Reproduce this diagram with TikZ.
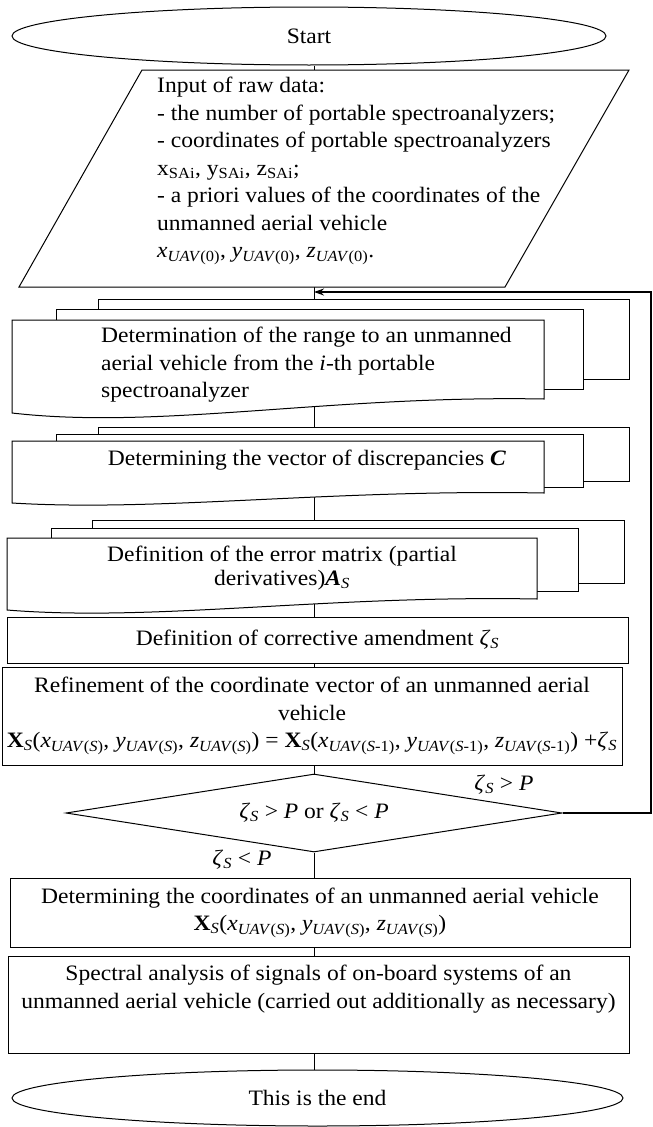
\documentclass[tikz,border=0pt]{standalone}
\usepackage{fontspec}
\setmainfont{Liberation Serif}[FakeStretch=1.07]
\usetikzlibrary{arrows.meta, shapes.geometric, backgrounds}
\newcommand{\uavc}[2]{\textit{#1}\textsubscript{\textit{UAV}(#2)}}
\newcommand{\zetas}{\textit{ζ}\textsubscript{\textit{S}}}
\newcommand{\Xs}{\textbf{X}\textsubscript{\textit{S}}}
\begin{document}
\begin{tikzpicture}[x=1pt, y=-1pt,
  font=\fontsize{22}{27.5}\selectfont,
  term/.style={draw, ellipse, fill=white, inner sep=0pt, line width=1pt},
  page/.style={draw, fill=white, inner sep=0pt, line width=1pt},
  proc/.style={draw, rectangle, fill=white, inner sep=0pt, align=center, line width=1pt},
  decide/.style={draw, diamond, fill=white, inner sep=0pt, shape aspect=6.4, line width=1pt},
  txt/.style={inner sep=0pt},
  flow/.style={line width=1pt},
  back/.style={-{Stealth[length=10pt, width=7pt]}, line width=1.4pt},
]
\useasboundingbox (0,0) rectangle (653,1127);
\coordinate (axis) at (314,0);

% Start and input
\node[term, minimum width=594pt, minimum height=58pt] (start) at (309,36) {Start};
\draw[page] (19,287) -- (142,70) -- (629,70) -- (505,287) -- cycle;
\coordinate (input1) at (314,70);
\coordinate (input2) at (314,287);
\node[txt, align=left, anchor=west] (input) at (157,171) {Input of raw data:\\
  - the number of portable spectroanalyzers;\\
  - coordinates of portable spectroanalyzers\\
  x\textsubscript{SAi}, y\textsubscript{SAi}, z\textsubscript{SAi};\\
  - a priori values of the coordinates of the\\
  unmanned aerial vehicle\\
  \uavc{x}{0}, \uavc{y}{0}, \uavc{z}{0}.};

% Range, three pages
\node[page, minimum width=531pt, minimum height=80pt] (range3) at (363.5,339) {};
\node[page, minimum width=527pt, minimum height=80pt] (range2) at (319.5,349) {};
\draw[page] (12,320) -- (544,320) -- (544,399)
  .. controls (330,395) and (160,430) .. (12,413) -- cycle;
\coordinate (range1) at (314,405);
\node[txt, align=left, anchor=west] (range) at (101,365) {Determination of the range to an unmanned\\
  aerial vehicle from the \textit{i}-th portable\\
  spectroanalyzer};

% Discrepancies, three pages
\node[page, minimum width=531pt, minimum height=54pt] (disc3) at (363.5,454) {};
\node[page, minimum width=527pt, minimum height=53pt] (disc2) at (319.5,460.5) {};
\draw[page] (12,441) -- (544,441) -- (544,493)
  .. controls (330,489) and (160,512) .. (12,503) -- cycle;
\coordinate (disc1) at (314,496);
\node[txt] (disc) at (307,460) {Determining the vector of discrepancies \textbf{\textit{C}}};

% Error matrix, three pages
\node[page, minimum width=532pt, minimum height=63pt] (err3) at (358,551.5) {};
\node[page, minimum width=527pt, minimum height=63pt] (err2) at (314.5,559.5) {};
\draw[page] (7,538) -- (537,538) -- (537,599)
  .. controls (325,595) and (155,622) .. (7,610) -- cycle;
\coordinate (err1) at (314,602);
\node[txt, align=center] (err) at (282,568) {Definition of the error matrix (partial\\[-4pt]
  derivatives)\textbf{\textit{A}}\textsubscript{\textit{S}}};

% Correction and refinement
\node[proc, minimum width=621pt, minimum height=46pt] (corr) at (317.5,640)
  {Definition of corrective amendment \zetas};
\node[proc, minimum width=620pt, minimum height=98pt] (refine) at (312,716)
  {Refinement of the coordinate vector of an unmanned aerial\\
  vehicle\\
  \Xs(\uavc{x}{\textit{S}}, \uavc{y}{\textit{S}}, \uavc{z}{\textit{S}}) =
  \Xs(\uavc{x}{\textit{S}-1}, \uavc{y}{\textit{S}-1}, \uavc{z}{\textit{S}-1}) +\zetas};

% Check
\node[decide, minimum width=496pt, minimum height=78pt] (check) at (314,813)
  {\zetas{} > \textit{P} or \zetas{} < \textit{P}};
\node[txt] (more) at (504,785) {\zetas{} > \textit{P}};
\node[txt] (less) at (242,860) {\zetas{} < \textit{P}};

% Result and end
\node[proc, minimum width=620pt, minimum height=69pt] (coords) at (320,912.5)
  {Determining the coordinates of an unmanned aerial vehicle\\
  \Xs(\uavc{x}{\textit{S}}, \uavc{y}{\textit{S}}, \uavc{z}{\textit{S}})};
\node[proc, minimum width=621pt, minimum height=97pt] (spectral) at (318.5,1004.5)
  {Spectral analysis of signals of on-board systems of an\\
  unmanned aerial vehicle (carried out additionally as necessary)\\ \strut};
\node[term, minimum width=611pt, minimum height=56pt] (finish) at (317.5,1098) {This is the end};

% Connectors
\begin{scope}[on background layer]
\foreach \a/\b in {start.south/input1, input2/range3.north,
    range1/disc3.north, disc1/err3.north, err1/corr.north,
    corr.south/refine.north, refine.south/check.north, check.south/coords.north,
    coords.south/spectral.north, spectral.south/finish.north}
  \draw[flow] (\a -| axis) -- (\b -| axis);
\end{scope}

% Loop back
\coordinate (loopcorner) at (651,292);
\coordinate (loopin) at (314,292);
\draw[back] (check.east) -| (loopcorner) -- (loopin);
\end{tikzpicture}
\end{document}
